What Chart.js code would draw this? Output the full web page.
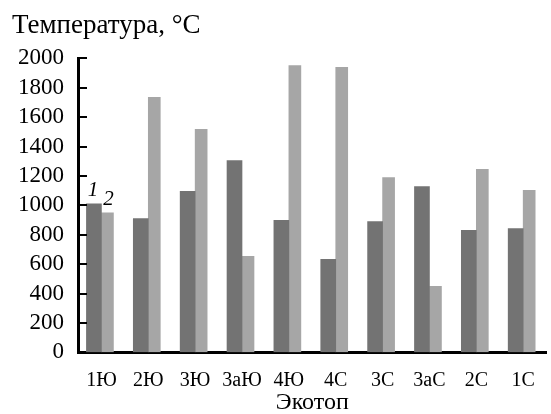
<!DOCTYPE html>
<html>
<head>
<meta charset="utf-8">
<script src="https://cdn.jsdelivr.net/npm/chart.js@4"></script>
<style>
  html, body { margin: 0; padding: 0; background: #fff; }
  #wrap { width: 551px; height: 414px; }
</style>
</head>
<body>
<div id="wrap"><canvas id="chart"></canvas></div>
<script>
const categories = ['1Ю', '2Ю', '3Ю', '3аЮ', '4Ю', '4С', '3С', '3аС', '2С', '1С'];
const series1 = [1010, 910, 1095, 1305, 898, 633, 890, 1128, 830, 843];
const series2 = [950, 1735, 1517, 653, 1952, 1940, 1190, 449, 1245, 1102];
const yTicks = [0, 200, 400, 600, 800, 1000, 1200, 1400, 1600, 1800, 2000];

const serif = "'Liberation Serif', 'DejaVu Serif', serif";

// tick marks drawn inward from the y axis, plus series numbers over the first group
const extras = {
    id: 'extras',
    afterDraw(chart) {
        const ctx = chart.ctx;
        const y = chart.scales.y;
        ctx.save();
        ctx.strokeStyle = '#000';
        ctx.lineWidth = 2;
        yTicks.forEach(v => {
            if (v === 0) return;
            const py = Math.round(y.getPixelForValue(v));
            ctx.beginPath();
            ctx.moveTo(y.right, py);
            ctx.lineTo(y.right + 9, py);
            ctx.stroke();
        });

        const b1 = chart.getDatasetMeta(0).data[0];
        const b2 = chart.getDatasetMeta(1).data[0];
        ctx.fillStyle = '#000';
        ctx.font = 'italic 21px ' + serif;
        ctx.textAlign = 'center';
        ctx.textBaseline = 'bottom';
        ctx.fillText('1', b1.x - 1, b1.y - 3);
        ctx.fillText('2', b2.x + 1, b1.y + 6);
        ctx.restore();
    }
};

new Chart(document.getElementById('chart'), {
    type: 'bar',
    data: {
        labels: categories,
        datasets: [{
            label: '1',
            data: series1,
            backgroundColor: '#737373',
            barThickness: 15
        }, {
            label: '2',
            data: series2,
            backgroundColor: '#a6a6a6',
            barThickness: 12
        }]
    },
    options: {
        responsive: true,
        maintainAspectRatio: false,
        animation: false,
        layout: { padding: { left: 12, right: 3, top: 0, bottom: 0 } },
        datasets: { bar: { categoryPercentage: 0.574 } },
        plugins: {
            legend: { display: false },
            tooltip: { enabled: false },
            title: {
                display: true,
                text: 'Температура, °C',
                align: 'start',
                color: '#000',
                font: { family: serif, size: 27, weight: 'normal', lineHeight: 1.2 },
                padding: { top: 10, bottom: 16 }
            }
        },
        scales: {
            x: {
                grid: { color: 'transparent', drawTicks: false },
                border: { display: true, color: '#000', width: 3 },
                ticks: {
                    color: '#000',
                    padding: 16,
                    font: { family: serif, size: 20, lineHeight: 1.2 }
                },
                title: {
                    display: true,
                    text: 'Экотоп',
                    color: '#000',
                    font: { family: serif, size: 24, lineHeight: 0.9 },
                    padding: { top: -16, bottom: 0 }
                }
            },
            y: {
                min: 0,
                max: 2000,
                afterBuildTicks(axis) {
                    axis.ticks = yTicks.map(v => ({ value: v }));
                },
                afterFit(axis) { axis.width = 66; },
                grid: { color: 'transparent', drawTicks: false },
                border: { display: true, color: '#000', width: 3 },
                ticks: {
                    color: '#000',
                    padding: 14,
                    autoSkip: false,
                    font: { family: serif, size: 23 },
                    callback: v => String(v)
                }
            }
        }
    },
    plugins: [extras]
});
</script>
</body>
</html>
